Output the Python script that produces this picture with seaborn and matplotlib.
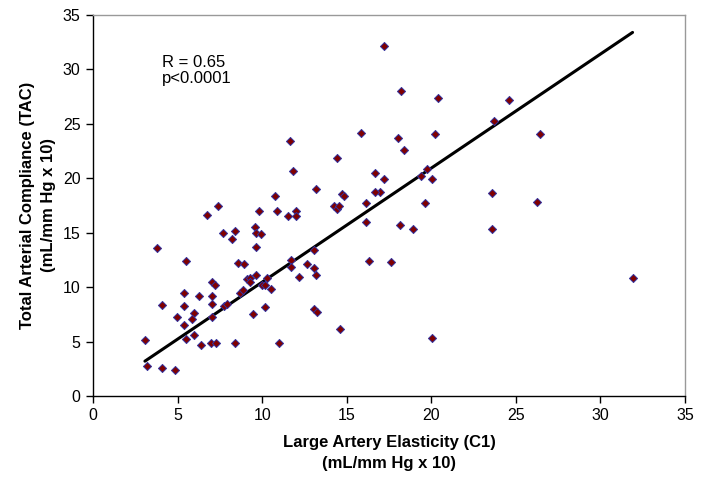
import numpy as np
import pandas as pd
import seaborn as sns
import matplotlib.pyplot as plt

# values
c1 = [3.07, 3.21, 4.10, 4.87, 3.76, 4.10, 5.48, 5.36, 5.36, 4.97, 5.36, 5.48,
      5.99, 5.85, 5.99, 6.37, 6.29, 6.74, 7.37, 7.06, 7.19, 7.06, 7.06, 7.06,
      6.98, 7.25, 7.71, 8.40, 8.20, 7.75, 7.94, 8.40, 8.57, 8.95, 8.71, 8.89,
      9.09, 9.26, 9.28, 9.44, 9.62, 9.64, 9.56, 9.64, 9.79, 9.95, 9.99, 10.15,
      10.27, 10.54, 10.15, 10.86, 10.98, 11.53, 11.98, 11.98, 11.71, 11.73,
      12.16, 12.65, 13.05, 13.05, 13.18, 13.05, 13.26, 14.23, 14.43, 14.56,
      14.62, 16.14, 16.14, 16.34, 17.60, 19.63, 26.24, 18.15, 18.90, 23.60,
      31.91, 20.05, 17.21, 18.21, 20.42, 24.58, 23.71, 18.04, 20.24, 26.43,
      18.41, 17.21, 16.97, 19.73, 19.38, 20.05, 23.60, 11.65, 15.83, 14.43,
      11.85, 16.69, 10.78, 13.17, 14.74, 14.84, 16.69]
tac = [5.14, 2.73, 2.60, 2.39, 13.56, 8.39, 12.40, 9.46, 8.27, 7.23, 6.52, 5.27,
       7.59, 7.07, 5.63, 4.65, 9.15, 16.63, 17.42, 10.50, 10.17, 9.15, 8.48, 7.29,
       4.84, 4.84, 14.97, 15.16, 14.45, 8.30, 8.42, 4.84, 12.22, 12.12, 9.46, 9.74,
       10.75, 10.87, 10.44, 7.50, 11.11, 13.66, 15.55, 14.94, 16.99, 14.85, 10.17, 10.17,
       10.81, 9.86, 8.18, 16.99, 4.84, 16.53, 16.99, 16.53, 12.49, 11.82,
       10.93, 12.09, 13.38, 11.73, 11.11, 7.99, 7.75, 17.42, 17.18, 17.42,
       6.12, 17.70, 15.95, 12.40, 12.31, 17.76, 17.85, 15.74, 15.34, 15.34,
       10.84, 5.36, 32.12, 27.99, 27.40, 27.19, 25.26, 23.67, 24.07, 24.07,
       22.60, 19.96, 18.70, 20.85, 20.24, 19.96, 18.62, 23.39, 24.16, 21.83,
       20.64, 20.45, 18.40, 18.98, 18.59, 18.37, 18.77]

# trend line end points as drawn in the reference
fit_x = [3.07, 31.9]
fit_y = [3.2, 33.4]

df = pd.DataFrame({"C1": c1, "TAC": tac})

sns.set_style("white")
plt.rcParams["font.family"] = ["Liberation Sans", "DejaVu Sans"]
plt.rcParams["text.color"] = "black"
plt.rcParams["axes.labelcolor"] = "black"
plt.rcParams["xtick.color"] = "black"
plt.rcParams["ytick.color"] = "black"

fig = plt.figure(figsize=(7.05, 4.8), dpi=100)
ax = fig.add_axes([93 / 705, 84 / 480, 592 / 705, 381 / 480])

sns.scatterplot(data=df, x="C1", y="TAC", marker="D", s=17,
                color="#800000", edgecolor="#3333a0", linewidth=0.7, ax=ax, zorder=3)
sns.lineplot(x=fit_x, y=fit_y, color="black", linewidth=2.2, ax=ax, zorder=2)

ax.set_xlim(0, 35)
ax.set_ylim(0, 35)
ax.set_xticks(range(0, 36, 5))
ax.set_yticks(range(0, 36, 5))
ax.tick_params(axis="both", direction="out", length=5, width=1, color="black",
               labelcolor="black", labelsize=11.5, pad=4, left=True, bottom=True)

for side in ["left", "bottom"]:
    ax.spines[side].set_color("black")
    ax.spines[side].set_linewidth(1)
for side in ["top", "right"]:
    ax.spines[side].set_color("#999999")
    ax.spines[side].set_linewidth(1)

ax.set_xlabel("Large Artery Elasticity (C1)\n(mL/mm Hg x 10)", fontsize=12,
              fontweight="bold", labelpad=8, linespacing=1.5)
ax.set_ylabel("Total Arterial Compliance (TAC)\n(mL/mm Hg x 10)", fontsize=12,
              fontweight="bold", labelpad=5, linespacing=1.5)

ax.text(4.1, 31.3, "R = 0.65\np<0.0001", fontsize=12, va="top", ha="left",
        linespacing=1.1, color="black")

fig.savefig("out.png", dpi=100)
